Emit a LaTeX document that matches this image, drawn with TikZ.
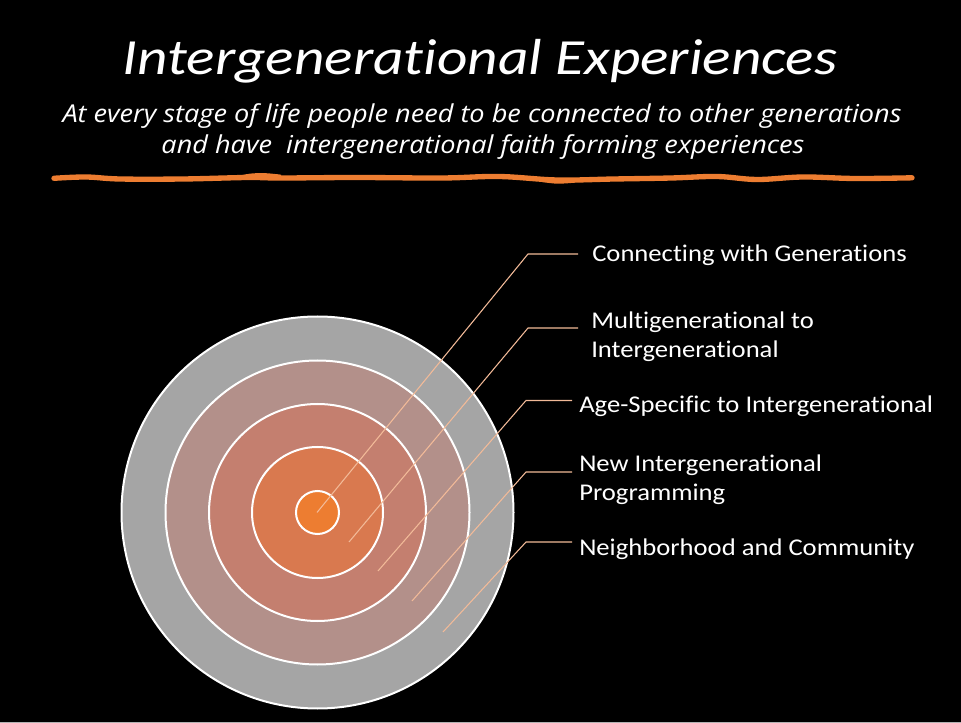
\documentclass[tikz,border=0pt]{standalone}
\usepackage{fontspec}
\setmainfont{Carlito}
\newfontfamily\subfont[FakeStretch=1.1]{Open Sans}
\newfontfamily\labfont[FakeStretch=1.11,Ligatures=NoCommon]{Carlito}
\newfontfamily\titfont[FakeStretch=1.17,Ligatures=NoCommon]{Carlito}
\begin{document}
\begin{tikzpicture}[x=0.75pt,y=-0.75pt,
  ring/.style={draw=white,line width=1.5pt},
  leader/.style={draw=leadc,line width=0.8pt},
  lab/.style={text=white,font=\labfont\fontsize{18}{21.6}\selectfont,anchor=base west,inner sep=0pt},
  sub/.style={text=white,font=\subfont\itshape\fontsize{18.5}{22}\selectfont,anchor=base,inner sep=0pt}]
\definecolor{leadc}{RGB}{242,186,152}
\definecolor{orng}{RGB}{237,125,49}
\definecolor{ringA}{RGB}{165,165,165}
\definecolor{ringB}{RGB}{179,144,138}
\definecolor{ringC}{RGB}{196,127,111}
\definecolor{ringD}{RGB}{217,121,79}
\fill[black] (0,0) rectangle (961,723);
\useasboundingbox (0,0) rectangle (961,723);
\draw[gray!60,line width=0.75pt] (0,722.5) -- (961,722.5);
% title
\node[text=white,font=\titfont\itshape\fontsize{38}{44}\selectfont,anchor=base,inner sep=0pt] (title) at (480,75) {Intergenerational Experiences};
\node[sub] (sub1) at (482,123) {At every stage of life people need to be connected to other generations};
\node[sub] (sub2) at (483,154) {and have\ \ intergenerational faith forming experiences};
% squiggle
\draw[orng,line width=4pt,line cap=round] plot[smooth,tension=0.6] coordinates {
 (54,178.3) (86,177) (120,179) (183,179) (247,177.5) (281,178) (356,177.5) (442,178) (499,176.5) (557,180) (614,179) (671,178) (717,176.5) (757,179.5) (803,177) (855,178.5) (912,177.8)};
\draw[orng,line width=2pt] plot[smooth,tension=0.6] coordinates {(235,178) (250,175) (265,174.5) (281,176)};
\draw[orng,line width=2.5pt] plot[smooth,tension=0.6] coordinates {(540,180) (557,182) (575,181)};
% target
\coordinate (c) at (317.5,512.5);
\filldraw[ring,fill=ringA] (c) circle[radius=196];
\filldraw[ring,fill=ringB] (c) circle[radius=152];
\filldraw[ring,fill=ringC] (c) circle[radius=108.5];
\filldraw[ring,fill=ringD] (c) circle[radius=65.5];
\filldraw[ring,fill=orng] (c) circle[radius=21.5];
% leaders
\coordinate (s1) at (317,512.5); \coordinate (k1) at (528,254); \coordinate (h1) at (578,254);
\coordinate (s2) at (349,542);   \coordinate (k2) at (528,328); \coordinate (h2) at (578,328);
\coordinate (s3) at (378,571);   \coordinate (k3) at (526,400.5); \coordinate (h3) at (572,400.5);
\coordinate (s4) at (412,601);   \coordinate (k4) at (526,472); \coordinate (h4) at (572,472);
\coordinate (s5) at (443,632);   \coordinate (k5) at (526,542); \coordinate (h5) at (572,542);
\draw[leader] (s1) -- (k1) -- (h1);
\draw[leader] (s2) -- (k2) -- (h2);
\draw[leader] (s3) -- (k3) -- (h3);
\draw[leader] (s4) -- (k4) -- (h4);
\draw[leader] (s5) -- (k5) -- (h5);
% labels
\node[lab] (l1) at (592,261.5) {Connecting with Generations};
\node[lab] (l2a) at (591,329) {Multigenerational to};
\node[lab] (l2b) at (591,358) {Intergenerational};
\node[lab] (l3) at (579,413) {Age-Specific to Intergenerational};
\node[lab] (l4a) at (579,471.5) {New Intergenerational};
\node[lab] (l4b) at (579,500.5) {Programming};
\node[lab] (l5) at (579,555.5) {Neighborhood and Community};
\end{tikzpicture}
\end{document}
